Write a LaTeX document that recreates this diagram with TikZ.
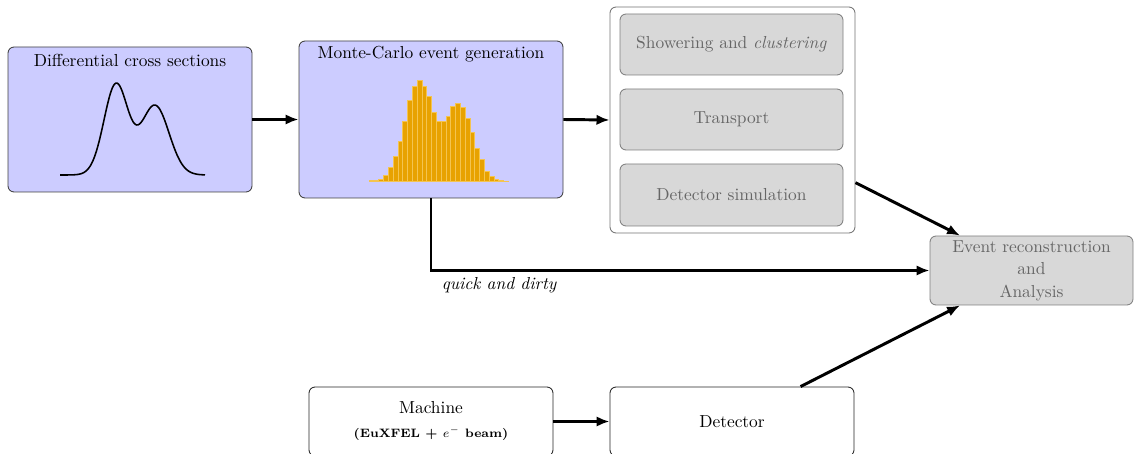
\documentclass[tikz,border=0pt]{standalone}
\usetikzlibrary{arrows.meta,calc,fit}
\definecolor{bluefill}{RGB}{204,204,255}
\definecolor{grayfill}{RGB}{216,216,216}
\definecolor{histo}{RGB}{232,162,0}
\definecolor{histoedge}{RGB}{244,196,80}
\begin{document}
\begin{tikzpicture}[x=0.575pt,y=-0.575pt,
  bluebox/.style={draw=black!75, fill=bluefill, rounded corners=3.5pt, line width=0.5pt, inner sep=0pt},
  graybox/.style={draw=black!50, fill=grayfill, rounded corners=3.5pt, line width=0.5pt, inner sep=0pt},
  graytext/.style={text=black!60, align=center},
  groupbox/.style={draw=black!55, fill=white, rounded corners=3.5pt, line width=0.5pt, inner sep=0pt},
  whitebox/.style={draw=black!85, fill=white, rounded corners=3.5pt, line width=0.5pt, inner sep=0pt},
  arr/.style={line width=1.7pt, -{Latex[length=7.5pt,width=6pt]}},
  bar/.style={fill=histo, draw=histoedge, line width=0.3pt}]
\clip (0,0) rectangle (1134,454);
\useasboundingbox (0,0) rectangle (1134,454);

% Differential cross sections
\node[bluebox, fit={(8,47) (252,192)}] (dcs) {};
\node (dcstitle) at (130,60) {Differential cross sections};
\draw[line width=0.9pt] plot[domain=60:205, samples=120, smooth]
  (\x, {175 - 90.5*exp(-((\x-116)^2)/288) - 69.5*exp(-((\x-155)^2)/392)});

% Monte-Carlo
\node[bluebox, fit={(299,41) (563,198)}] (mc) {};
\node (mctitle) at (431,54) {Monte-Carlo event generation};
\foreach \h [count=\i from 0] in {1,1.3,2.7,6.7,14,25,40.7,60.7,81.3,95,101,95.7,85,69.3,60.7,60.7,65.7,75.7,78.3,74,63.3,49.3,33.3,22,10.7,5.3,2.7,1.3,0.7}
  \filldraw[bar] ({369+\i*4.8},181.7) rectangle ++(4.8,-\h);

% Simulation group
\node[groupbox, fit={(610,7) (855,233)}] (grp) {};
\node[graybox, fit={(620,14) (843,75)}] (show) {};
\node[graytext] (showt) at (show.center) {Showering and \textit{clustering}};
\node[graybox, fit={(620,89) (843,150)}] (trans) {};
\node[graytext] (transt) at (trans.center) {Transport};
\node[graybox, fit={(620,164) (843,226)}] (detsim) {};
\node[graytext] (detsimt) at (detsim.center) {Detector simulation};

% Event reconstruction
\node[graybox, fit={(930,236) (1133,305)}] (evt) {};
\node[graytext] (evtt) at (evt.center) {Event reconstruction\\[1pt]and\\[1pt]Analysis};

% Machine and detector
\node[whitebox, fit={(309,387) (553,456)}] (mach) {};
\node[align=center] (macht) at (431,421) {Machine\\[2pt]{\scriptsize\bfseries (EuXFEL + $e^-$ beam)}};
\node[whitebox, fit={(610,387) (854,456)}] (det) {};
\node (dett) at (732,421.5) {Detector};

% Connectors
\draw[arr] (dcs.east) -- (mc.west);
\draw[arr] (mc.east) -- (grp.west);
\draw[arr] (mc.south) |- (evt.west) node[pos=0.5, anchor=north west, xshift=2pt, font=\itshape] (qd) {quick and dirty};
\draw[arr] (grp.-27) -- ($(evt.north west)!0.15!(evt.north east)$);
\draw[arr] ($(det.north west)!0.78!(det.north east)$) -- ($(evt.south west)!0.15!(evt.south east)$);
\draw[arr] (mach.east) -- (det.west);
\end{tikzpicture}
\end{document}
